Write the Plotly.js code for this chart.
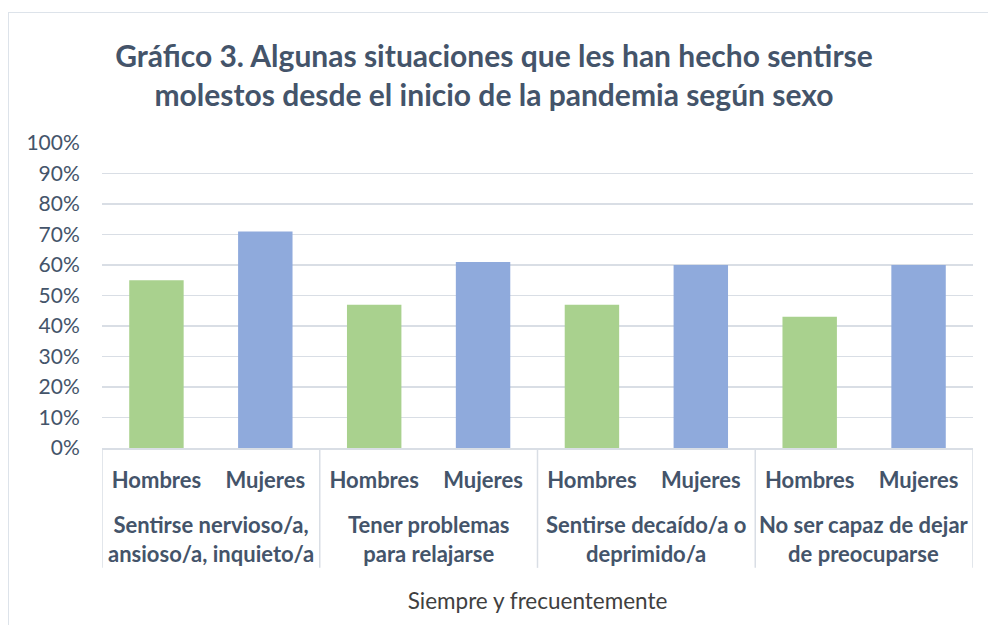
<!DOCTYPE html>
<html>
<head>
<meta charset="utf-8">
<script src="https://cdn.plot.ly/plotly-3.0.1.min.js"></script>
<style>
  html, body { margin: 0; padding: 0; background: #fff; overflow: hidden; }
  #frame { position: absolute; left: 8px; top: 12px; width: 1000px; height: 700px; border: 1.5px solid #DDE3EA; box-sizing: border-box; }
  #chart { position: absolute; left: 0; top: 0; width: 988px; height: 625px; }
</style>
</head>
<body>
<div id="frame"></div>
<div id="chart"></div>
<script>
const situaciones = [
  "Sentirse nervioso/a,<br>ansioso/a, inquieto/a",
  "Tener problemas<br>para relajarse",
  "Sentirse decaído/a o<br>deprimido/a",
  "No ser capaz de dejar<br>de preocuparse"
];
const sexos = ["Hombres", "Mujeres"];
const valores = [
  [0.55, 0.71],
  [0.47, 0.61],
  [0.47, 0.60],
  [0.43, 0.60]
];
const colores = ["#A9D18E", "#8FAADC"];
const yTicks = [0, 0.1, 0.2, 0.3, 0.4, 0.5, 0.6, 0.7, 0.8, 0.9, 1.0];
const tituloEje = "Siempre y frecuentemente";

const txt = "#44546A";
const lineCol = "#D9DEE5";
const n = sexos.length;

const xs = [], inner = [], ys = [], cols = [];
situaciones.forEach((s, i) => {
  sexos.forEach((g, j) => {
    xs.push(i * n + j); inner.push(g); ys.push(valores[i][j]); cols.push(colores[j]);
  });
});

const trace = {
  type: "bar",
  x: xs,
  y: ys,
  marker: { color: cols },
  hoverinfo: "skip"
};

const annotations = situaciones.map((s, i) => ({
  text: "<b>" + s + "</b>",
  x: i * n + (n - 1) / 2, xref: "x",
  y: -0.297, yref: "paper",
  xanchor: "center", yanchor: "middle",
  showarrow: false,
  font: { size: 22, color: txt, family: "Lato, sans-serif" }
}));

const shapes = [];
for (let i = 0; i <= situaciones.length; i++) {
  shapes.push({
    type: "line", xref: "x", yref: "paper",
    x0: i * n - 0.5, x1: i * n - 0.5, y0: 0, y1: -0.393,
    line: { color: lineCol, width: 1.5 }
  });
}

const layout = {
  width: 988, height: 625,
  margin: { l: 102, r: 15, t: 143, b: 177 },
  paper_bgcolor: "rgba(0,0,0,0)",
  plot_bgcolor: "rgba(0,0,0,0)",
  bargap: 0.5,
  showlegend: false,
  font: { family: "Lato, 'Open Sans', sans-serif", color: txt },
  title: {
    text: "<b>Gráfico 3. Algunas situaciones que les han hecho sentirse<br>molestos desde el inicio de la pandemia según sexo</b>",
    font: { size: 30, color: txt, family: "Lato, sans-serif" },
    x: 0.5, xanchor: "center", y: 0.893, yanchor: "top"
  },
  annotations: annotations,
  shapes: shapes,
  xaxis: {
    type: "linear",
    range: [-0.5, situaciones.length * n - 0.5],
    tickvals: xs, ticktext: inner,
    showgrid: false, zeroline: false,
    showline: true, linecolor: lineCol, linewidth: 1.5,
    tickfont: { size: 22, color: txt, family: "Lato, sans-serif", weight: "bold" },
    ticks: "",
    ticklabelstandoff: 12,
    title: { text: tituloEje, font: { size: 22.5, color: "#404040" }, standoff: 101 },
    fixedrange: true
  },
  yaxis: {
    range: [0, 1],
    tickvals: yTicks,
    tickformat: ".0%",
    showgrid: true, gridcolor: lineCol, gridwidth: 1.5,
    zeroline: false,
    showline: false,
    ticks: "outside", ticklen: 17, tickcolor: "rgba(0,0,0,0)",
    tickfont: { size: 21, color: txt },
    fixedrange: true
  }
};

Plotly.newPlot("chart", [trace], layout, { displayModeBar: false, staticPlot: true });
</script>
</body>
</html>
